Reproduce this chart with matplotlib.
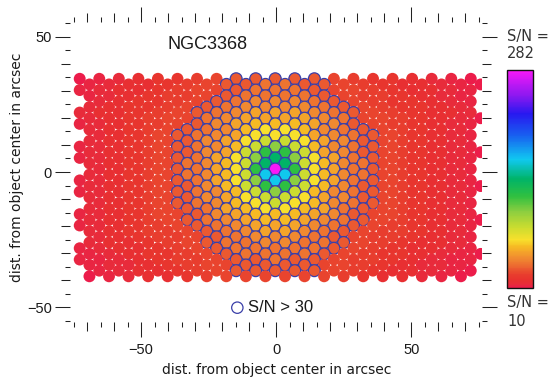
"""Fiber map of NGC3368 coloured by S/N (dithered IFU bundle)."""

import numpy as np
import matplotlib

matplotlib.use("Agg")
import matplotlib.pyplot as plt
from matplotlib.cm import ScalarMappable
from matplotlib.collections import PatchCollection
from matplotlib.colors import LinearSegmentedColormap, Normalize
from matplotlib.patches import Circle
from matplotlib.ticker import FixedLocator

OBJECT_NAME = "NGC3368"
SN_MIN = 10
SN_MAX = 282
SN_CUT = 30

# bundle layout in arcsec: 12 bundle rows (A/B alternate), 3 dithers each
BUNDLE_ROW_Y = [32.4, 26.1, 19.9, 13.6, 7.3, 1.1, -5.2, -11.5, -17.7, -24.0, -30.3, -36.5]
ROW_X0 = {"A": -69.1, "B": -65.5}
ROW_FIBERS = {"A": 21, "B": 20}
FIBER_PITCH = 7.235
DITHER_DX = [-3.62, 0.0, -3.62]
DITHER_DY = [2.09, 0.0, -2.09]

# S/N levels
LEVEL_CODES = "0123456789ABCDEFGHI"
LEVEL_SN = [11, 13, 15, 18, 22, 26, 29, 34, 40, 47, 55, 62, 70, 85, 105, 125, 145, 170, 282]

# one string per dithered row, top to bottom, one char per fiber left to right
SN_ROWS = [
    "012344567777765443210",
    "123345677887765433210",
    "123345667888766543321",
    "12345567888876554321",
    "23445678999876544321",
    "23445678999987654432",
    "233456789AAA987654332",
    "23456689AAAA986654320",
    "12345679ABBBA97654321",
    "23456789BCCB98765432",
    "2346789ACCCA98764321",
    "2345679ACDDCA9765432",
    "12346789BDEDB98764321",
    "2345679ADFFDA97654320",
    "1234678ACEGECA8764321",
    "2345689BDGGDB9865432",
    "234678ACFIFCA8764321",
    "2345689BDHHDB9865432",
    "1234678ACEHECA8764321",
    "2345679BDFFDB97654320",
    "12346789BDEDB98764321",
    "2345679ACDDCA9765432",
    "2346789BCDCB98764321",
    "2345678ABCCBA8765432",
    "12346679ABBBA97664321",
    "23456789ABBA987654320",
    "123456789AAA987654321",
    "234556789AA987655432",
    "23455678999876554321",
    "23345678899887654332",
    "123345678888876543321",
    "123445678888765443210",
    "112345567787765543211",
    "12234566777766543221",
    "12334567777765433210",
    "01233456666665433210",
]

CMAP_NODES = [
    (0.0, "#ec1c4a"), (0.012, "#e82a3e"), (0.03, "#e83030"), (0.045, "#e8362e"),
    (0.06, "#e83e2e"), (0.072, "#e9482e"), (0.09, "#eb5e30"), (0.11, "#ee7430"),
    (0.137, "#f08c30"), (0.165, "#f4a42a"), (0.19, "#f6bc24"), (0.22, "#f8e02c"),
    (0.28, "#c8dc30"), (0.35, "#8cce40"), (0.42, "#30c040"), (0.50, "#00b468"),
    (0.59, "#10c8f0"), (0.70, "#1860f0"), (0.80, "#2818f0"), (0.88, "#8818f0"),
    (1.0, "#f818f8"),
]
EDGE_BLUE = "#3a3fa8"
FIBER_RADIUS = 2.2
TEXT_COLOR = "#1a1a1a"
SANS = ["Liberation Sans", "DejaVu Sans"]


def _fibers():
    xs, ys, sn = [], [], []
    for k, y_row in enumerate(BUNDLE_ROW_Y):
        kind = "A" if k % 2 == 0 else "B"
        for d in range(3):
            codes = SN_ROWS[3 * k + d]
            assert len(codes) == ROW_FIBERS[kind], (k, d, len(codes))
            for j, code in enumerate(codes):
                xs.append(ROW_X0[kind] + DITHER_DX[d] + j * FIBER_PITCH)
                ys.append(y_row + DITHER_DY[d])
                sn.append(LEVEL_SN[LEVEL_CODES.index(code)])
    return np.array(xs), np.array(ys), np.array(sn, dtype=float)


def _style_axis(axis, limit):
    locs = list(range(-limit, limit + 1, 5))
    major = [v for v in locs if v % 50 == 0]
    minor = [v for v in locs if v % 50 != 0]
    axis.set_major_locator(FixedLocator(major))
    axis.set_minor_locator(FixedLocator(minor))
    for tick, loc in zip(axis.get_minor_ticks(len(minor)), minor):
        size = 6.5 if loc % 10 == 0 else 3.8
        tick.tick1line.set_markersize(size)
        tick.tick2line.set_markersize(size)


def main():
    xs, ys, sn = _fibers()
    cmap = LinearSegmentedColormap.from_list("sn_rainbow", CMAP_NODES)
    norm = Normalize(vmin=SN_MIN, vmax=SN_MAX)

    fig = plt.figure(figsize=(5.52, 3.79), dpi=100)
    ax = fig.add_axes([70 / 552, 1 - 322 / 379, 412.5 / 552, 300 / 379])

    patches = [Circle((x, y), FIBER_RADIUS) for x, y in zip(xs, ys)]
    edges = [EDGE_BLUE if s > SN_CUT else "none" for s in sn]
    coll = PatchCollection(patches, facecolors=cmap(norm(sn)), edgecolors=edges, linewidths=0.9)
    ax.add_collection(coll)

    # "S/N > 30" key
    ax.add_patch(Circle((-14.4, -50.2), 2.1, fill=False, edgecolor=EDGE_BLUE, linewidth=0.9))
    ax.text(-10.6, -50.2, f"S/N > {SN_CUT}", va="center", ha="left", fontsize=12,
            family=SANS, color=TEXT_COLOR)
    ax.text(-40.2, 47.1, OBJECT_NAME, va="center", ha="left", fontsize=13,
            family=SANS, color=TEXT_COLOR)

    ax.set_xlim(-76.3, 76.3)
    ax.set_ylim(-55.5, 55.5)
    ax.set_aspect("equal", adjustable="box")
    for spine in ax.spines.values():
        spine.set_visible(False)

    ax.tick_params(which="both", direction="out", top=True, right=True, width=0.75,
                   color="#222222", labelcolor=TEXT_COLOR, labelsize=10.5,
                   labelfontfamily="Liberation Sans")
    ax.tick_params(which="major", length=10.5)
    ax.tick_params(axis="x", which="major", pad=4.5)
    ax.tick_params(axis="y", which="major", pad=2.5)
    _style_axis(ax.xaxis, 75)
    _style_axis(ax.yaxis, 55)

    fig.text(276.7 / 552, 1 - 370 / 379, "dist. from object center in arcsec",
             ha="center", va="center", fontsize=10, color=TEXT_COLOR, family="DejaVu Sans")
    fig.text(17 / 552, 1 - 167 / 379, "dist. from object center in arcsec", rotation=90,
             ha="center", va="center", fontsize=10, color=TEXT_COLOR, family="DejaVu Sans")

    cax = fig.add_axes([507 / 552, 1 - 288 / 379, 26 / 552, 218 / 379])
    cb = fig.colorbar(ScalarMappable(norm=norm, cmap=cmap), cax=cax)
    cb.set_ticks([])
    cb.outline.set_linewidth(1.0)
    cb.outline.set_edgecolor("#111111")

    label_kw = dict(ha="left", va="center", fontsize=10.5, color="#333333", family="DejaVu Sans")
    fig.text(507 / 552, 1 - 37 / 379, "S/N =", **label_kw)
    fig.text(507 / 552, 1 - 54 / 379, f"{SN_MAX}", **label_kw)
    fig.text(507 / 552, 1 - 303 / 379, "S/N =", **label_kw)
    fig.text(507 / 552, 1 - 321 / 379, f"{SN_MIN}", **label_kw)

    fig.savefig("out.png", dpi=100)
    plt.close(fig)


if __name__ == "__main__":
    main()
